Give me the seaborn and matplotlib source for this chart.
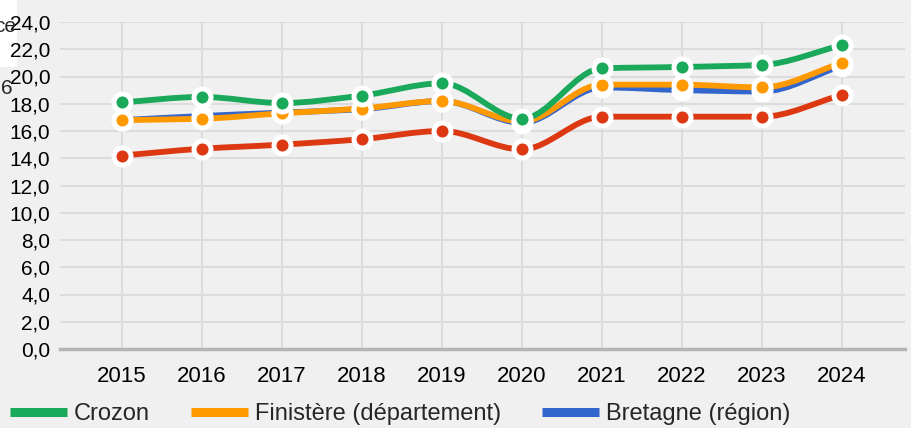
import matplotlib
matplotlib.use("Agg")
import matplotlib.pyplot as plt
import seaborn as sns
import pandas as pd
from matplotlib.path import Path
from matplotlib.patches import PathPatch, Rectangle
from matplotlib.lines import Line2D
from matplotlib.ticker import FuncFormatter

years = [2015, 2016, 2017, 2018, 2019, 2020, 2021, 2022, 2023, 2024]
crozon = [18.1, 18.5, 18.05, 18.6, 19.5, 16.9, 20.6, 20.7, 20.85, 22.3]
finistere = [16.8, 16.9, 17.3, 17.65, 18.2, 16.7, 19.4, 19.4, 19.2, 21.0]
bretagne = [16.8, 17.1, 17.35, 17.6, 18.2, 16.6, 19.2, 19.0, 18.9, 20.8]
france = [14.2, 14.7, 15.0, 15.4, 16.0, 14.65, 17.05, 17.05, 17.05, 18.65]

series_names = ["Crozon", "Finistère (département)", "Bretagne (région)", "France"]
series_values = [crozon, finistere, bretagne, france]
colors = {"Crozon": "#1aa95a", "Finistère (département)": "#ff9900",
          "Bretagne (région)": "#3366cc", "France": "#dc3912"}

df = pd.concat([pd.DataFrame({"year": years, "value": v, "serie": n})
                for n, v in zip(series_names, series_values)])

sns.set_theme(style="whitegrid")
plt.rcParams['font.family'] = ['Liberation Sans', 'DejaVu Sans']
bg = '#f0f0f0'

fig = plt.figure(figsize=(9.11, 4.28), dpi=100, facecolor=bg)
ax = fig.add_axes([60 / 911, 79 / 428, 845 / 911, 327 / 428])
ax.set_facecolor(bg)


def smooth_path(x, y):
    # monotone cubic bezier through the points
    n = len(x)
    d = [(y[i + 1] - y[i]) / (x[i + 1] - x[i]) for i in range(n - 1)]
    m = [d[0]]
    for i in range(1, n - 1):
        if d[i - 1] * d[i] <= 0:
            m.append(0.0)
        else:
            m.append(2 * d[i - 1] * d[i] / (d[i - 1] + d[i]))
    m.append(d[-1])
    verts = [(x[0], y[0])]
    codes = [Path.MOVETO]
    for i in range(n - 1):
        h = x[i + 1] - x[i]
        verts += [(x[i] + h / 3, y[i] + m[i] * h / 3),
                  (x[i + 1] - h / 3, y[i + 1] - m[i + 1] * h / 3),
                  (x[i + 1], y[i + 1])]
        codes += [Path.CURVE4] * 3
    return Path(verts, codes)


draw_order = ["France", "Bretagne (région)", "Finistère (département)", "Crozon"]
for k, name in enumerate(draw_order):
    d = df[df["serie"] == name]
    patch = PathPatch(smooth_path(d["year"].tolist(), d["value"].tolist()),
                      facecolor='none', edgecolor=colors[name], lw=4.2,
                      zorder=3 + k * 0.1, capstyle='round', joinstyle='round')
    ax.add_patch(patch)

for k, name in enumerate(draw_order):
    d = df[df["serie"] == name]
    inner = 'white' if name == "Bretagne (région)" else colors[name]
    ax.scatter(d["year"], d["value"], s=250, color='white', zorder=5 + k * 0.2, linewidths=0)
    ax.scatter(d["year"], d["value"], s=75, color=inner, zorder=5.1 + k * 0.2, linewidths=0)

ax.set_xlim(2014.225, 2024.79)
ax.set_ylim(0, 24)
ax.set_xticks(years)
ax.set_yticks(range(0, 25, 2))
ax.yaxis.set_major_formatter(FuncFormatter(lambda v, p: f"{v:.1f}".replace('.', ',')))
ax.grid(True, color='#dcdcdc', lw=1.5)
for s in ['top', 'right', 'left']:
    ax.spines[s].set_visible(False)
ax.spines['bottom'].set_color('#b5b5b5')
ax.spines['bottom'].set_linewidth(2.5)
ax.tick_params(axis='both', length=0, colors='black')
ax.tick_params(axis='y', pad=7, labelsize=15)
ax.tick_params(axis='x', pad=12, labelsize=16)
ax.set_xlabel('')
ax.set_ylabel('')

shown = series_names[:3]
handles = [Line2D([0], [0], color=colors[n], lw=6.5, solid_capstyle='butt') for n in shown]
fig.legend(handles, shown, loc='center left', bbox_to_anchor=(10 / 911, 14 / 428),
           ncol=3, frameon=False, fontsize=17, handlelength=2.4, handletextpad=0.3,
           columnspacing=1.75, borderpad=0, borderaxespad=0)

# clipped axis title fragments top-left
fig.add_artist(Rectangle((0, 1 - 67 / 428), 17 / 911, 67 / 428, transform=fig.transFigure,
                         facecolor='white', edgecolor='none', zorder=-1))
fig.text(-6 / 911, 1 - 27 / 428, "ce", fontsize=15, va='center', ha='left', zorder=11)
fig.text(7 / 911, 1 - 88 / 428, "6", fontsize=15, va='center', ha='center')

fig.savefig("out.png", dpi=100, facecolor=bg)
